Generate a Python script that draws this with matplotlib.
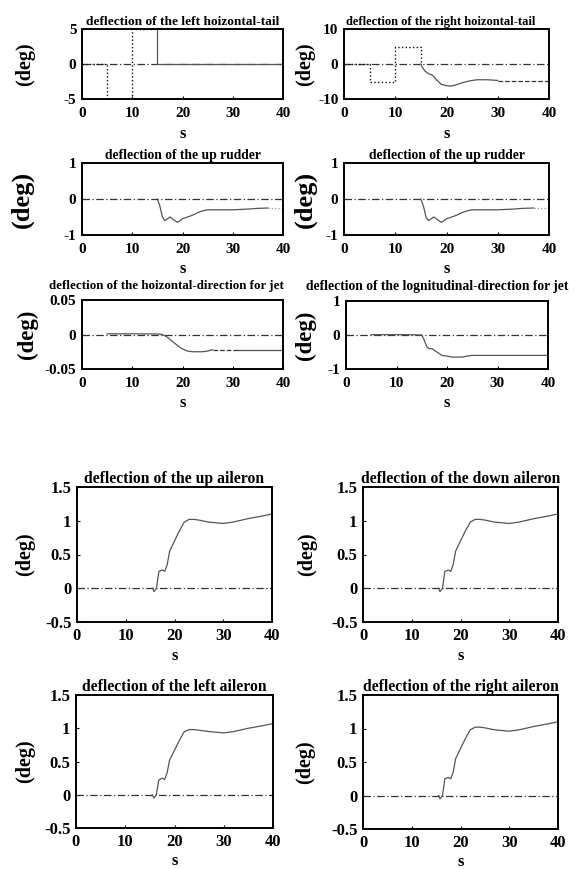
import matplotlib
matplotlib.use("Agg")
import matplotlib.pyplot as plt

plt.rcParams['font.family'] = ['Liberation Serif', 'DejaVu Serif']
plt.rcParams['font.weight'] = 'bold'
plt.rcParams['axes.unicode_minus'] = False

W, H = 578, 869

# ---- data ----
# left horizontal tail: command steps and the response after 15 s
lt_cmd_t = [0, 5, 5, 10, 10, 15]
lt_cmd_v = [0, 0, -5, -5, 5, 5]
lt_resp_t = [15, 15, 40]
lt_resp_v = [5, 0, 0]

# right horizontal tail
rt_cmd_t = [0, 5, 5, 10, 10, 15, 15]
rt_cmd_v = [0, 0, -5, -5, 5, 5, 0]
rt_resp_t = [15, 15.3, 15.8, 16.5, 17, 17.5, 18, 19, 20, 21, 22, 23, 24, 25, 26, 28, 30]
rt_resp_v = [0, -1, -2, -2.8, -3.0, -3.5, -4.5, -5.8, -6.2, -6.3, -5.9, -5.4, -5.0, -4.7, -4.5, -4.5, -4.7]
rt_tail_t = [30, 40]
rt_tail_v = [-4.8, -4.8]

# up rudder (both panels show the same curve)
ru_t = [15, 15.5, 16, 16.5, 17, 17.5, 18, 18.5, 19, 19.5, 20, 21, 22, 23, 24, 25, 27, 30, 33, 35, 37]
ru_v = [0, -0.2, -0.5, -0.6, -0.55, -0.5, -0.55, -0.6, -0.65, -0.6, -0.55, -0.5, -0.45, -0.38,
        -0.33, -0.3, -0.3, -0.3, -0.28, -0.26, -0.25]
ru_tail_t = [37, 40]
ru_tail_v = [-0.25, -0.25]

# jet, horizontal direction
jh_t = [5, 10, 15, 16, 17, 18, 19, 20, 21, 22, 24, 25, 26]
jh_v = [0.001, 0.001, 0.0008, 0, -0.004, -0.01, -0.016, -0.021, -0.024, -0.025, -0.025, -0.024, -0.022]
jh_mid_t = [26, 31]
jh_mid_v = [-0.022, -0.022]
jh_end_t = [31, 40]
jh_end_v = [-0.023, -0.023]

# jet, longitudinal direction
jl_t = [5, 12, 15, 15.5, 16, 16.5, 17, 18, 19, 20, 21, 22, 23, 24, 25, 30, 40]
jl_v = [0.01, 0.01, 0, -0.15, -0.35, -0.4, -0.4, -0.5, -0.6, -0.62, -0.65, -0.65, -0.65, -0.62,
        -0.6, -0.6, -0.6]

# ailerons
ail_t = [15.5, 15.8, 16.3, 16.8, 17.5, 18, 18.5, 19, 20, 21, 22, 23, 24, 25, 27, 30, 32, 35, 38, 40]
ail_up = [0, -0.05, 0, 0.25, 0.27, 0.25, 0.35, 0.55, 0.7, 0.85, 0.98, 1.02, 1.02, 1.01, 0.98,
          0.96, 0.98, 1.03, 1.07, 1.1]
ail_down = [0, -0.05, 0, 0.25, 0.27, 0.25, 0.35, 0.55, 0.7, 0.85, 0.98, 1.02, 1.02, 1.01, 0.98,
            0.96, 0.98, 1.03, 1.07, 1.1]
ail_left = [0, -0.05, 0, 0.22, 0.25, 0.23, 0.33, 0.52, 0.67, 0.82, 0.95, 0.98, 0.98, 0.97, 0.95,
            0.93, 0.95, 1.0, 1.04, 1.07]
ail_right = [0, -0.05, 0, 0.25, 0.27, 0.25, 0.35, 0.55, 0.7, 0.85, 0.98, 1.02, 1.02, 1.01, 0.98,
             0.96, 0.98, 1.03, 1.07, 1.1]

xticks = [0, 10, 20, 30, 40]

fig = plt.figure(figsize=(W / 100, H / 100), dpi=100)


def make_ax(l, t, r, b, title, ylim, yticks, yticklabels, ylab_x, xlab_y, small=True,
            ylab_fs=14.5, title_fs=None, title_x=0.5, title_pad=3):
    ax = fig.add_axes([l / W, 1 - b / H, (r - l) / W, (b - t) / H])
    ax.set_xlim(0, 40)
    ax.set_ylim(*ylim)
    ax.set_xticks(xticks)
    ax.set_yticks(yticks)
    ax.set_yticklabels(yticklabels)
    fs_t = title_fs or (9.2 if small else 11.3)
    fs_k = 11 if small else 12
    ax.set_title(title, fontsize=fs_t, fontweight='bold', pad=title_pad, x=title_x)
    ax.tick_params(direction='in', length=2, width=0.8, labelsize=fs_k, pad=4)
    ax.tick_params(axis='x', pad=6 if small else 4)
    ax.set_ylabel('(deg)', fontsize=ylab_fs, fontweight='bold', va='center')
    ax.set_xlabel('s', fontsize=12, fontweight='bold')
    ax.yaxis.set_label_coords(ylab_x, 0.5)
    ax.xaxis.set_label_coords(0.5, xlab_y)
    for sp in ax.spines.values():
        sp.set_linewidth(1.4)
    return ax


ref_kw = dict(color='#333333', linestyle='-.', linewidth=0.9, dashes=(6, 2, 1, 2))
resp_kw = dict(color='#555555', linewidth=0.9)

# row 1
ax = make_ax(82, 29, 283, 99, 'deflection of the left hoizontal-tail', (-5, 5), [-5, 0, 5],
             ['-5', '0', '5'], -0.284, -0.38, title_fs=9.6)
ax.plot([0, 40], [0, 0], **ref_kw)
ax.plot(lt_cmd_t, lt_cmd_v, color='#111111', linestyle=':', linewidth=1.0)
ax.plot(lt_resp_t, lt_resp_v, **resp_kw)

ax = make_ax(344, 29, 549, 99, 'deflection of the right hoizontal-tail', (-10, 10), [-10, 0, 10],
             ['-10', '0', '10'], -0.19, -0.38, title_fs=9.0, title_x=0.47)
ax.plot([0, 40], [0, 0], **ref_kw)
ax.plot(rt_cmd_t, rt_cmd_v, color='#111111', linestyle=':', linewidth=1.0)
ax.plot(rt_resp_t, rt_resp_v, **resp_kw)
ax.plot(rt_tail_t, rt_tail_v, color='#333333', linestyle='--', linewidth=0.9)

# row 2
for l, r, yx in [(82, 283, -0.30), (344, 549, -0.19)]:
    ax = make_ax(l, 163, r, 235, 'deflection of the up rudder', (-1, 1), [-1, 0, 1],
                 ['-1', '0', '1'], yx, -0.36, ylab_fs=19, title_fs=9.8)
    ax.plot([0, 40], [0, 0], **ref_kw)
    ax.plot(ru_t, ru_v, **resp_kw)
    ax.plot(ru_tail_t, ru_tail_v, color='#999999', linestyle=':', linewidth=0.9)

# row 3
ax = make_ax(82, 300, 283, 369, 'deflection of the hoizontal-direction for jet', (-0.05, 0.05),
             [-0.05, 0, 0.05], ['-0.05', '0', '0.05'], -0.27, -0.38, ylab_fs=16.5,
             title_fs=9.4, title_x=0.42, title_pad=8)
ax.plot([0, 40], [0, 0], **ref_kw)
ax.plot(jh_t, jh_v, **resp_kw)
ax.plot(jh_mid_t, jh_mid_v, color='#333333', linestyle='--', linewidth=0.9)
ax.plot(jh_end_t, jh_end_v, **resp_kw)

ax = make_ax(346, 301, 548, 369, 'deflection of the lognitudinal-direction for jet', (-1, 1),
             [-1, 0, 1], ['-1', '0', '1'], -0.2, -0.38, ylab_fs=16.5,
             title_fs=9.8, title_x=0.45, title_pad=8)
ax.plot([0, 40], [0, 0], **ref_kw)
ax.plot(jl_t, jl_v, **resp_kw)

# ailerons
ail_axes = [
    (77, 487, 272, 622, 'deflection of the up aileron', ail_up, -0.267),
    (363, 487, 558, 622, 'deflection of the down aileron', ail_down, -0.287),
    (76, 695, 273, 828, 'deflection of the left aileron', ail_left, -0.259),
    (363, 695, 558, 829, 'deflection of the right aileron', ail_right, -0.297),
]
for l, t, r, b, title, vals, yx in ail_axes:
    ax = make_ax(l, t, r, b, title, (-0.5, 1.5), [-0.5, 0, 0.5, 1, 1.5],
                 ['-0.5', '0', '0.5', '1', '1.5'], yx, -0.19, small=False)
    ax.plot([0, 40], [0, 0], **ref_kw)
    ax.plot(ail_t, vals, **resp_kw)

fig.savefig('out.png', dpi=100)
